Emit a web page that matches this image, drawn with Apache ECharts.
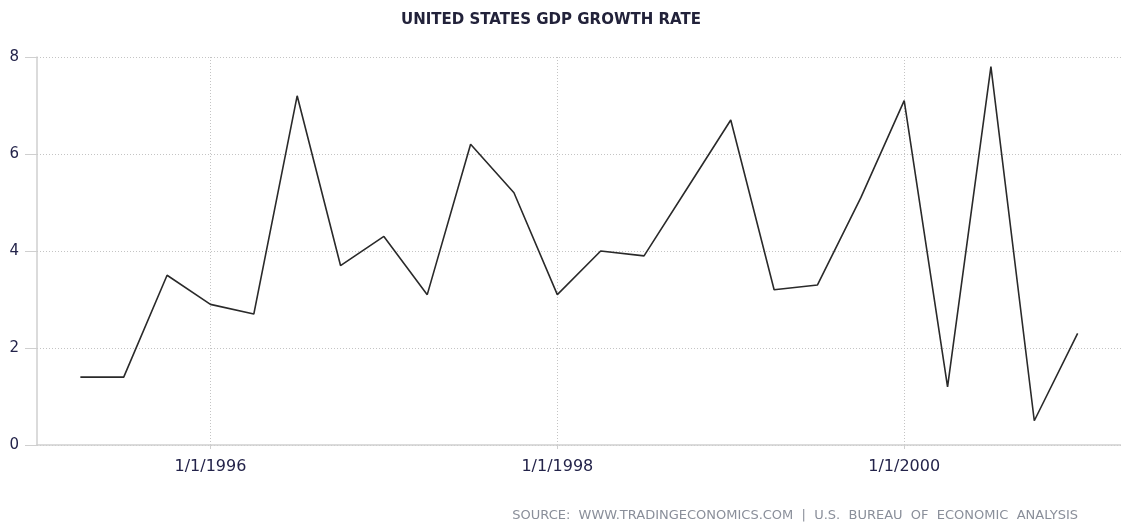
<!DOCTYPE html>
<html lang="en">
<head>
    <meta charset="UTF-8">
    <title>United States GDP Growth Rate</title>
    <script src="https://cdn.jsdelivr.net/npm/echarts@6/dist/echarts.min.js"></script>
    <style>
        html, body { margin: 0; padding: 0; background: #fff; }
        #chart { width: 1121px; height: 527px; }
    </style>
</head>
<body>
    <div id="chart"></div>

    <script>
        // quarters, padded with an empty quarter at each end so the axis spans 1995-01 .. 2001-04
        const quarters = [
            '1995-01-01', '1995-04-01', '1995-07-01', '1995-10-01',
            '1996-01-01', '1996-04-01', '1996-07-01', '1996-10-01',
            '1997-01-01', '1997-04-01', '1997-07-01', '1997-10-01',
            '1998-01-01', '1998-04-01', '1998-07-01', '1998-10-01',
            '1999-01-01', '1999-04-01', '1999-07-01', '1999-10-01',
            '2000-01-01', '2000-04-01', '2000-07-01', '2000-10-01',
            '2001-01-01', '2001-04-01'
        ];
        const gdpGrowth = [
            null, 1.4, 1.4, 3.5,
            2.9, 2.7, 7.2, 3.7,
            4.3, 3.1, 6.2, 5.2,
            3.1, 4.0, 3.9, 5.3,
            6.7, 3.2, 3.3, 5.1,
            7.1, 1.2, 7.8, 0.5,
            2.3, null
        ];
        const labelDates = ['1996-01-01', '1998-01-01', '2000-01-01'];

        const font = '"DejaVu Sans", Verdana, sans-serif';

        function showDate(idx, value) {
            return labelDates.indexOf(value) !== -1;
        }

        function formatDate(value) {
            const [y, m, d] = value.split('-');
            return parseInt(m, 10) + '/' + parseInt(d, 10) + '/' + y;
        }

        const chart = echarts.init(document.getElementById('chart'));

        const option = {
            animation: false,
            backgroundColor: '#fff',
            title: [
                {
                    text: 'UNITED STATES GDP GROWTH RATE',
                    left: 396,
                    top: 8,
                    textStyle: { fontFamily: font, fontSize: 15, fontWeight: 'bold', color: '#22223a' }
                },
                {
                    text: 'SOURCE:  WWW.TRADINGECONOMICS.COM  |  U.S.  BUREAU  OF  ECONOMIC  ANALYSIS',
                    right: 38,
                    top: 504,
                    textStyle: { fontFamily: font, fontSize: 13, fontWeight: 'normal', color: '#8a8f9a' }
                }
            ],
            grid: { left: 37, right: -2, top: 57, bottom: 82 },
            xAxis: {
                type: 'category',
                data: quarters,
                boundaryGap: false,
                axisLine: { lineStyle: { color: '#cfcfcf', width: 1.5 } },
                axisTick: { show: true, interval: showDate, length: 4, lineStyle: { color: '#cfcfcf' } },
                axisLabel: {
                    interval: showDate,
                    formatter: formatDate,
                    margin: 14,
                    fontFamily: font,
                    fontSize: 16,
                    color: '#23234a'
                },
                splitLine: {
                    show: true,
                    interval: showDate,
                    lineStyle: { color: '#c4c4c4', type: [1, 2] }
                }
            },
            yAxis: {
                type: 'value',
                min: 0,
                max: 8,
                interval: 2,
                axisLine: { show: true, lineStyle: { color: '#cfcfcf', width: 1.5 } },
                axisTick: { show: true, length: 12, lineStyle: { color: '#cfcfcf' } },
                axisLabel: { margin: 18, fontFamily: font, fontSize: 15, color: '#23234a' },
                splitLine: { show: true, lineStyle: { color: '#c4c4c4', type: [1, 2] } }
            },
            series: [
                {
                    name: 'GDP Growth Rate',
                    type: 'line',
                    data: gdpGrowth,
                    showSymbol: false,
                    symbol: 'none',
                    lineStyle: { color: '#2a2a2a', width: 1.6 }
                }
            ]
        };

        chart.setOption(option);
        window.addEventListener('resize', () => chart.resize());
    </script>
</body>
</html>
